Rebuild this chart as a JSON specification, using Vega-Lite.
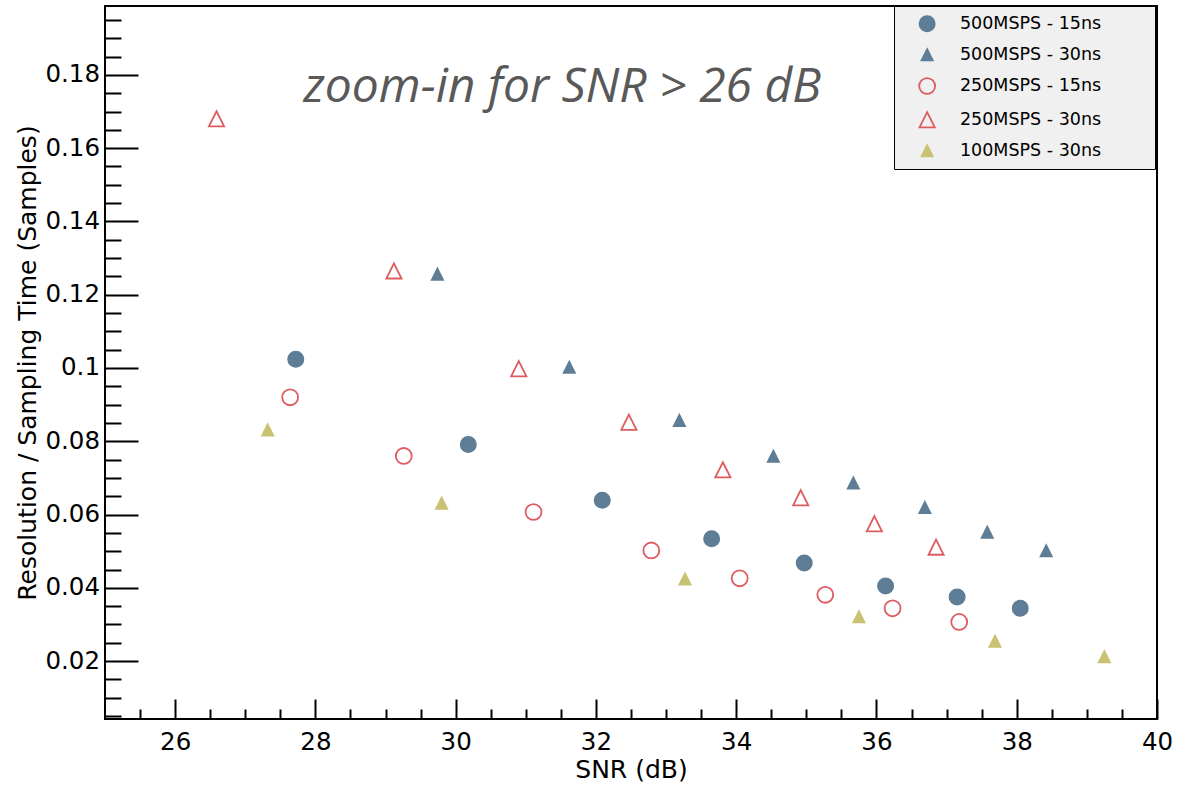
{
  "$schema": "https://vega.github.io/schema/vega-lite/v6.json",
  "width": 1052,
  "height": 713,
  "autosize": {"type": "none"},
  "padding": {"left": 105, "top": 6, "right": 28, "bottom": 67},
  "background": "white",
  "config": {
    "view": {"stroke": "black", "strokeWidth": 2},
    "font": "DejaVu Sans",
    "axis": {
      "grid": false,
      "domain": false,
      "tickColor": "black",
      "tickWidth": 2,
      "labelColor": "black",
      "titleColor": "black",
      "labelFont": "DejaVu Sans",
      "titleFont": "DejaVu Sans",
      "titleFontWeight": "normal"
    }
  },
  "datasets": {
    "points": [
      {"series": "500MSPS - 15ns", "snr": 27.72, "res": 0.1024},
      {"series": "500MSPS - 15ns", "snr": 30.18, "res": 0.0791},
      {"series": "500MSPS - 15ns", "snr": 32.09, "res": 0.0639},
      {"series": "500MSPS - 15ns", "snr": 33.65, "res": 0.0534},
      {"series": "500MSPS - 15ns", "snr": 34.97, "res": 0.0468},
      {"series": "500MSPS - 15ns", "snr": 36.13, "res": 0.0405},
      {"series": "500MSPS - 15ns", "snr": 37.15, "res": 0.0375},
      {"series": "500MSPS - 15ns", "snr": 38.05, "res": 0.0344},
      {"series": "500MSPS - 30ns", "snr": 29.74, "res": 0.1256},
      {"series": "500MSPS - 30ns", "snr": 31.62, "res": 0.1002},
      {"series": "500MSPS - 30ns", "snr": 33.19, "res": 0.0857},
      {"series": "500MSPS - 30ns", "snr": 34.53, "res": 0.0759},
      {"series": "500MSPS - 30ns", "snr": 35.67, "res": 0.0686},
      {"series": "500MSPS - 30ns", "snr": 36.69, "res": 0.0619},
      {"series": "500MSPS - 30ns", "snr": 37.58, "res": 0.0552},
      {"series": "500MSPS - 30ns", "snr": 38.42, "res": 0.0501},
      {"series": "250MSPS - 15ns", "snr": 27.64, "res": 0.0920},
      {"series": "250MSPS - 15ns", "snr": 29.26, "res": 0.0760},
      {"series": "250MSPS - 15ns", "snr": 31.11, "res": 0.0607},
      {"series": "250MSPS - 15ns", "snr": 32.79, "res": 0.0502},
      {"series": "250MSPS - 15ns", "snr": 34.05, "res": 0.0426},
      {"series": "250MSPS - 15ns", "snr": 35.27, "res": 0.0381},
      {"series": "250MSPS - 15ns", "snr": 36.23, "res": 0.0344},
      {"series": "250MSPS - 15ns", "snr": 37.18, "res": 0.0307},
      {"series": "250MSPS - 30ns", "snr": 26.59, "res": 0.1680},
      {"series": "250MSPS - 30ns", "snr": 29.12, "res": 0.1265},
      {"series": "250MSPS - 30ns", "snr": 30.90, "res": 0.0998},
      {"series": "250MSPS - 30ns", "snr": 32.47, "res": 0.0852},
      {"series": "250MSPS - 30ns", "snr": 33.81, "res": 0.0722},
      {"series": "250MSPS - 30ns", "snr": 34.92, "res": 0.0646},
      {"series": "250MSPS - 30ns", "snr": 35.97, "res": 0.0575},
      {"series": "250MSPS - 30ns", "snr": 36.85, "res": 0.0511},
      {"series": "100MSPS - 30ns", "snr": 27.32, "res": 0.0831},
      {"series": "100MSPS - 30ns", "snr": 29.80, "res": 0.0631},
      {"series": "100MSPS - 30ns", "snr": 33.27, "res": 0.0424},
      {"series": "100MSPS - 30ns", "snr": 35.75, "res": 0.0321},
      {"series": "100MSPS - 30ns", "snr": 37.69, "res": 0.0254},
      {"series": "100MSPS - 30ns", "snr": 39.25, "res": 0.0212}
    ],
    "note": [
      {"label": "zoom-in for SNR > 26 dB", "snr": 31.52, "res": 0.1726}
    ]
  },
  "layer": [
    {
      "data": {"name": "points"},
      "mark": {"type": "point", "opacity": 1, "strokeWidth": 1.8},
      "encoding": {
        "x": {
          "field": "snr", "type": "quantitative",
          "scale": {"domain": [25, 40], "nice": false, "zero": false},
          "axis": {
            "orient": "bottom",
            "values": [26, 28, 30, 32, 34, 36, 38, 40],
            "format": "d",
            "tickSize": -20,
            "labelFontSize": 24.5,
            "labelPadding": 31.5,
            "labelFlush": false,
            "title": "SNR (dB)",
            "titleFontSize": 25,
            "titlePadding": 3
          }
        },
        "y": {
          "field": "res", "type": "quantitative",
          "scale": {"domain": [0.0042, 0.1988], "nice": false, "zero": false},
          "axis": {
            "orient": "left",
            "values": [0.02, 0.04, 0.06, 0.08, 0.1, 0.12, 0.14, 0.16, 0.18],
            "format": "~g",
            "tickSize": -33,
            "labelFontSize": 24.5,
            "labelPadding": 38.5,
            "labelFlush": false,
            "title": "Resolution / Sampling Time (Samples)",
            "titleFontSize": 25,
            "titlePadding": 4
          }
        },
        "shape": {
          "field": "series", "type": "nominal",
          "scale": {
            "domain": ["500MSPS - 15ns", "500MSPS - 30ns", "250MSPS - 15ns", "250MSPS - 30ns", "100MSPS - 30ns"],
            "range": ["circle", "M0,-1L1,1L-1,1Z", "circle", "M0,-1L1,1L-1,1Z", "M0,-1L1,1L-1,1Z"]
          },
          "legend": {
            "title": null,
            "orient": "none",
            "legendX": 789,
            "legendY": 0,
            "fillColor": "#f0f0f0",
            "strokeColor": "black",
            "padding": 9,
            "rowPadding": 10,
            "labelFont": "DejaVu Sans",
            "labelFontSize": 17.5,
            "labelColor": "black",
            "labelLimit": 400,
            "labelOffset": 23.8,
            "symbolOffset": 15.15,
            "symbolOpacity": 1,
            "symbolStrokeWidth": 1.8,
            "labelExpr": "datum.label + '\u00a0\u00a0\u00a0\u00a0\u00a0\u00a0\u00a0\u00a0\u200b'"
          }
        },
        "fill": {
          "field": "series", "type": "nominal",
          "scale": {
            "domain": ["500MSPS - 15ns", "500MSPS - 30ns", "250MSPS - 15ns", "250MSPS - 30ns", "100MSPS - 30ns"],
            "range": ["#5e7d96", "#5e7d96", "transparent", "transparent", "#c9c173"]
          }
        },
        "stroke": {
          "field": "series", "type": "nominal",
          "scale": {
            "domain": ["500MSPS - 15ns", "500MSPS - 30ns", "250MSPS - 15ns", "250MSPS - 30ns", "100MSPS - 30ns"],
            "range": ["#5e7d96", "#5e7d96", "#dd5c60", "#dd5c60", "#c9c173"]
          }
        },
        "size": {
          "field": "series", "type": "nominal",
          "scale": {
            "type": "ordinal",
            "domain": ["500MSPS - 15ns", "500MSPS - 30ns", "250MSPS - 15ns", "250MSPS - 30ns", "100MSPS - 30ns"],
            "range": [231, 125, 253, 231, 125]
          }
        }
      }
    },
    {
      "data": {"name": "note"},
      "mark": {"type": "text", "font": "Open Sans", "fontStyle": "italic", "fontSize": 48, "color": "#595959", "align": "center", "baseline": "alphabetic"},
      "encoding": {
        "x": {
          "field": "snr", "type": "quantitative",
          "scale": {"domain": [25, 40], "nice": false, "zero": false},
          "axis": {
            "orient": "bottom",
            "values": [25.5, 26.5, 27, 27.5, 28.5, 29, 29.5, 30.5, 31, 31.5, 32.5, 33, 33.5, 34.5, 35, 35.5, 36.5, 37, 37.5, 38.5, 39, 39.5],
            "tickSize": -10,
            "labels": false,
            "domain": false,
            "title": null
          }
        },
        "y": {
          "field": "res", "type": "quantitative",
          "scale": {"domain": [0.0042, 0.1988], "nice": false, "zero": false},
          "axis": {
            "orient": "left",
            "values": [0.005, 0.01, 0.015, 0.025, 0.03, 0.035, 0.045, 0.05, 0.055, 0.065, 0.07, 0.075, 0.085, 0.09, 0.095, 0.105, 0.11, 0.115, 0.125, 0.13, 0.135, 0.145, 0.15, 0.155, 0.165, 0.17, 0.175, 0.185, 0.19, 0.195],
            "tickSize": -16,
            "labels": false,
            "domain": false,
            "title": null
          }
        },
        "text": {"field": "label", "type": "nominal"}
      }
    }
  ],
  "resolve": {"axis": {"x": "independent", "y": "independent"}}
}
